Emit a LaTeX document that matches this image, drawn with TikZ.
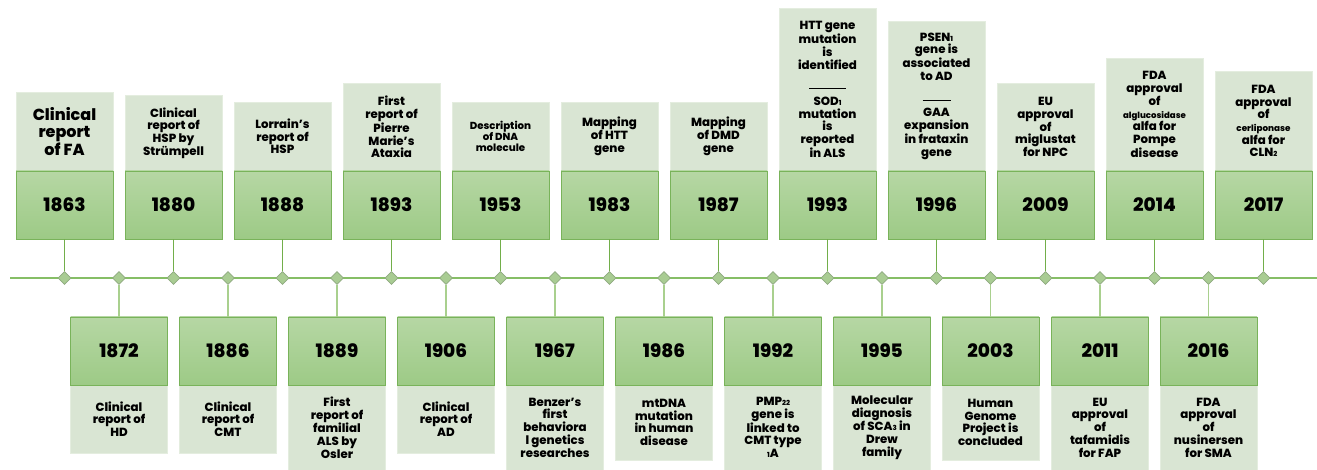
\documentclass[tikz,border=0pt]{standalone}
\usepackage{fontspec}
\setmainfont{Poppins}[BoldFont={Poppins ExtraBold}]
\usetikzlibrary{shapes.geometric}
\definecolor{labfill}{HTML}{D9E5D3}
\definecolor{labedge}{HTML}{E4EDDF}
\definecolor{ytop}{HTML}{B6D7A4}
\definecolor{ybot}{HTML}{9DCA86}
\definecolor{yedge}{HTML}{79B35A}
\definecolor{dfill}{HTML}{A9CC93}
\definecolor{dedge}{HTML}{8FAA80}
\definecolor{stemtop}{HTML}{72AE4A}
\definecolor{stembot}{HTML}{A9D08E}
\definecolor{axcol}{HTML}{86BE66}
\newcommand\lbl{\bfseries\fontsize{11.8}{12.7}\selectfont}
\newcommand\yrfont{\bfseries\fontsize{18.5}{20}\selectfont}
\newcommand\sn[1]{{\fontsize{7}{7}\selectfont #1}}
\newcommand\sepline[1]{\rule[3.5pt]{#1}{1pt}}
\tikzset{
  labbox/.style={rectangle, fill=labfill, draw=labedge, line width=0.6pt,
    minimum width=97pt, inner sep=0pt, align=center, font=\lbl},
  yearbox/.style={rectangle, top color=ytop, bottom color=ybot, draw=yedge,
    line width=0.8pt, minimum width=97pt, minimum height=68pt, inner sep=0pt,
    font=\yrfont},
  dmd/.style={diamond, aspect=1, minimum size=13pt, inner sep=0pt,
    fill=dfill, draw=dedge, line width=0.6pt},
  topstem/.style={draw=stemtop, line width=0.9pt},
  botstem/.style={draw=stembot, line width=1.3pt},
  axisline/.style={draw=axcol, line width=1.2pt}
}
% #1 x, #2 top y of label, #3 year, #4 extra options, #5 text
\newcommand\topev[5]{%
  \node[labbox, minimum height={(171-#2)*1pt}, #4] (l#3) at (#1,{(171+#2)/2}) {#5};
  \node[yearbox] (y#3) at (#1,205) {#3};
  \node[dmd] (d#3) at (#1,278) {};
  \draw[topstem] (y#3.south) -- (d#3.north);
}
% #1 x, #2 bottom y of label, #3 year, #4 extra options, #5 text
\newcommand\botev[5]{%
  \node[labbox, minimum height={(#2-385)*1pt}, #4] (l#3) at (#1,{(385+#2)/2}) {#5};
  \node[yearbox] (y#3) at (#1,351) {#3};
  \node[dmd] (d#3) at (#1,278) {};
  \draw[botstem] (d#3.south) -- (y#3.north);
}
\begin{document}
\begin{tikzpicture}[x=1pt, y=-1pt]
\useasboundingbox (0,0) rectangle (1317,470);
\coordinate (axL) at (10,278);
\coordinate (axR) at (1317,278);
\draw[axisline] (axL) -- (axR);
% top events
\topev{64.5}{92}{1863}{font=\bfseries\fontsize{16}{16.5}\selectfont}{Clinical\\report\\of FA}
\topev{173.5}{95}{1880}{}{Clinical\\report of\\HSP by\\Strümpell}
\topev{282.5}{102}{1888}{}{Lorrain’s\\report of\\HSP}
\topev{391.5}{83}{1893}{}{First\\report of\\Pierre\\Marie’s\\Ataxia}
\topev{500.5}{102}{1953}{font=\bfseries\fontsize{10.2}{10.8}\selectfont}{Description\\of DNA\\molecule}
\topev{609.5}{102}{1983}{}{Mapping\\of HTT\\gene}
\topev{718.5}{102}{1987}{}{Mapping\\of DMD\\gene}
\topev{827.5}{8}{1993}{}{HTT gene\\mutation\\is\\identified\\[11pt]\sepline{37pt}\\SOD\sn{1}\\mutation\\is\\reported\\in ALS}
\topev{936.5}{21}{1996}{}{PSEN\sn{1}\\gene is\\associated\\to AD\\[11pt]\sepline{28pt}\\GAA\\expansion\\in frataxin\\gene}
\topev{1045.5}{83}{2009}{}{EU\\approval\\of\\miglustat\\for NPC}
\topev{1154.5}{58}{2014}{}{FDA\\approval\\of\\{\fontsize{8.6}{8}\selectfont alglucosidase}\\alfa for\\Pompe\\disease}
\topev{1263.5}{71}{2017}{}{FDA\\approval\\of\\{\fontsize{8.8}{8}\selectfont cerliponase}\\alfa for\\CLN\sn{2}}
% bottom events
\botev{119}{453}{1872}{}{Clinical\\report of\\HD}
\botev{228}{453}{1886}{}{Clinical\\report of\\CMT}
\botev{337}{470}{1889}{}{First\\report of\\familial\\ALS by\\Osler}
\botev{446}{453}{1906}{}{Clinical\\report of\\AD}
\botev{555}{470}{1967}{}{Benzer’s\\first\\behaviora\\l genetics\\researches}
\botev{664}{460}{1986}{}{mtDNA\\mutation\\in human\\disease}
\botev{773}{470}{1992}{}{PMP\sn{22}\\gene is\\linked to\\CMT type\\\sn{1}A}
\botev{882}{470}{1995}{}{Molecular\\diagnosis\\of SCA\sn{3} in\\Drew\\family}
\botev{990.5}{460}{2003}{}{Human\\Genome\\Project is\\concluded}
\botev{1100}{470}{2011}{}{EU\\approval\\of\\tafamidis\\for FAP}
\botev{1208.5}{470}{2016}{}{FDA\\approval\\of\\nusinersen\\for SMA}
\end{tikzpicture}
\end{document}
